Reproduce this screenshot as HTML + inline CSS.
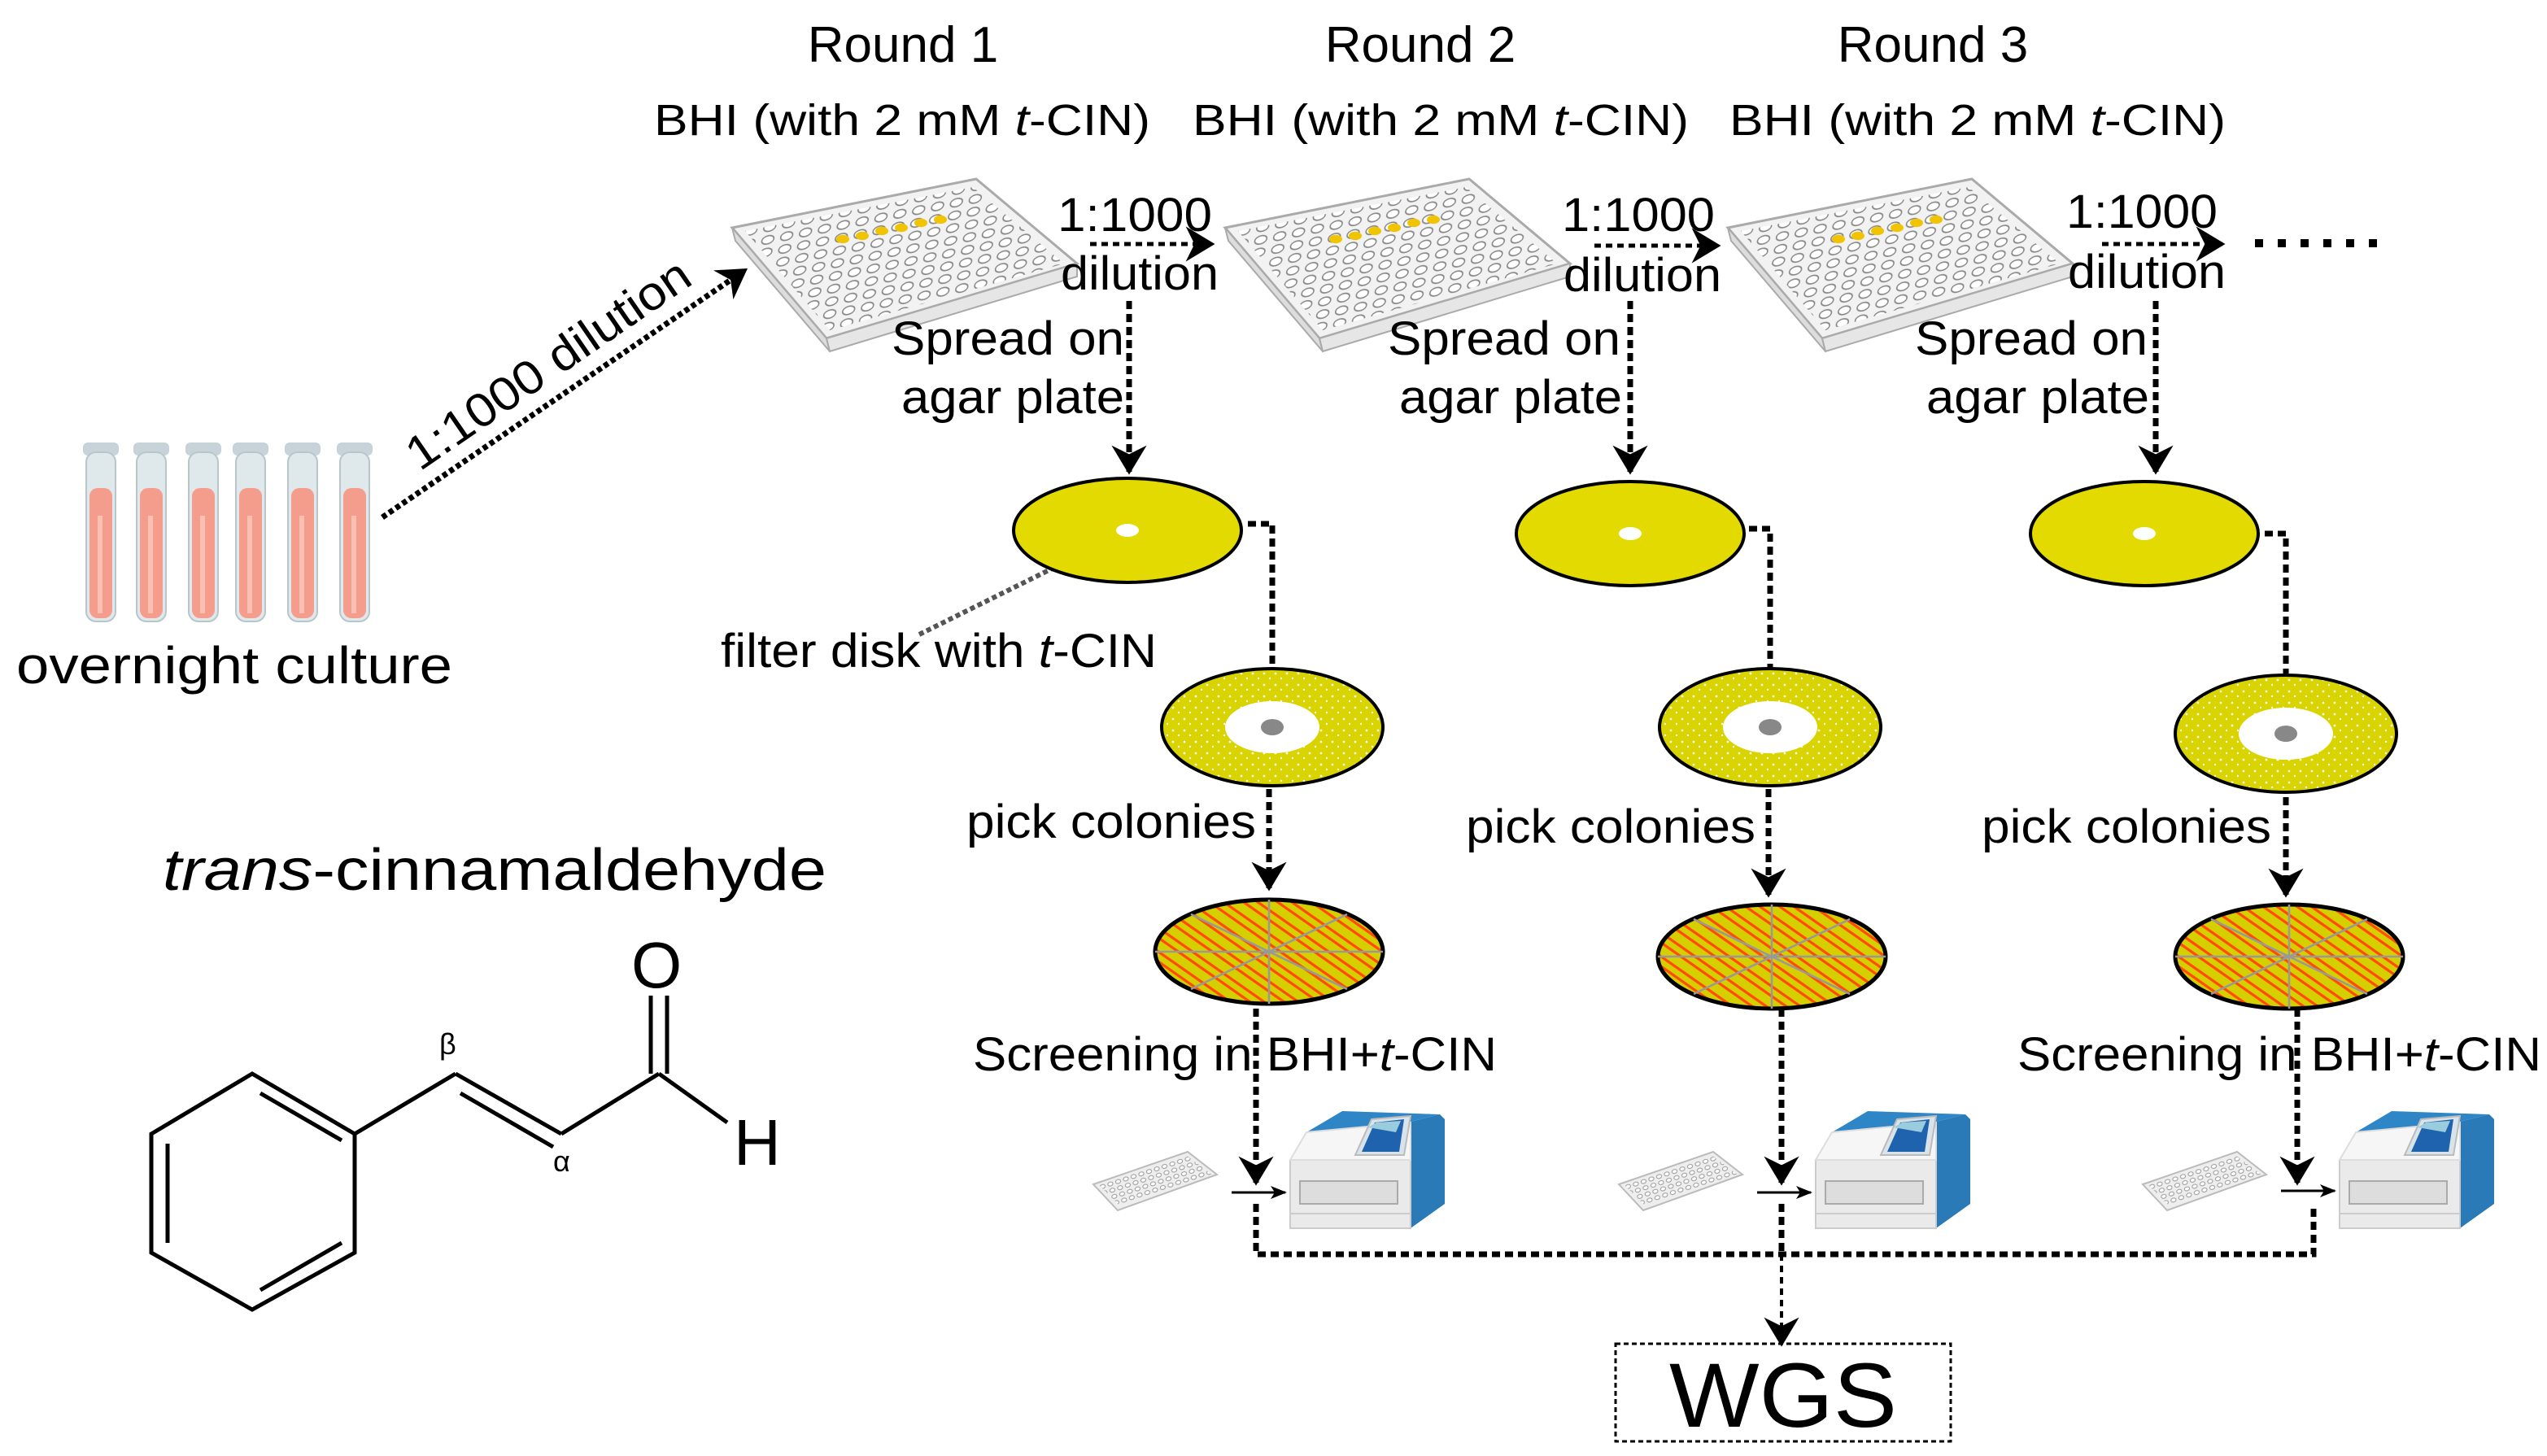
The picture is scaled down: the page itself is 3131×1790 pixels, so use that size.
<!DOCTYPE html>
<html><head><meta charset="utf-8"><style>html,body{margin:0;padding:0;background:#fff}svg{display:block}text{font-family:"Liberation Sans",sans-serif;fill:#000}</style></head><body>
<svg width="3131" height="1790" viewBox="0 0 1565.5 895" xmlns="http://www.w3.org/2000/svg">
<defs>
<marker id="ah" viewBox="0 0 20 24" refX="18" refY="12" markerWidth="18" markerHeight="22" markerUnits="userSpaceOnUse" orient="auto"><path d="M0,0 L20,12 L0,24 L6,12 z" fill="#000"/></marker>
<marker id="ahs" viewBox="0 0 20 20" refX="18" refY="10" markerWidth="10" markerHeight="10" markerUnits="userSpaceOnUse" orient="auto"><path d="M0,2 L20,10 L0,18 L5,10 z" fill="#000"/></marker>
<pattern id="wells" width="11" height="8" patternUnits="userSpaceOnUse" patternTransform="skewX(-20) rotate(-12)"><ellipse cx="5" cy="4" rx="3.5" ry="2.6" fill="#fff" stroke="#888" stroke-width="0.8"/></pattern>
<pattern id="wells2" width="5" height="4" patternUnits="userSpaceOnUse" patternTransform="rotate(-18)"><ellipse cx="2.5" cy="2" rx="1.6" ry="1.2" fill="#fff" stroke="#999" stroke-width="0.5"/></pattern>
<pattern id="speck" width="7" height="7" patternUnits="userSpaceOnUse"><rect width="7" height="7" fill="#d9d400"/><circle cx="2" cy="2" r="0.7" fill="#fff"/><circle cx="5.5" cy="5" r="0.6" fill="#fff"/></pattern>
<pattern id="streak" width="12" height="12" patternUnits="userSpaceOnUse" patternTransform="rotate(35)"><rect width="12" height="12" fill="#d6cf00"/><path d="M0,3 L12,3 M0,8 L12,8" stroke="#ff4a00" stroke-width="1.6"/></pattern>
<g id="p96">
 <path d="M0,30 L150,0 L212,52 L58,98 Z" fill="#f2f2f2" stroke="#aaa" stroke-width="1.5"/>
 <path d="M8,32 L148,5 L204,52 L60,93 Z" fill="url(#wells)"/>
 <path d="M0,30 L58,98 L60,106 L2,38 Z" fill="#ddd" stroke="#aaa"/>
 <path d="M58,98 L212,52 L212,60 L60,106 Z" fill="#e6e6e6" stroke="#aaa"/>
 <g fill="#f0c400"><ellipse cx="68" cy="37" rx="4" ry="2.6"/><ellipse cx="80" cy="35" rx="4" ry="2.6"/><ellipse cx="92" cy="32" rx="4" ry="2.6"/><ellipse cx="104" cy="30" rx="4" ry="2.6"/><ellipse cx="116" cy="27" rx="4" ry="2.6"/><ellipse cx="128" cy="25" rx="4" ry="2.6"/></g>
</g>
<g id="disk1"><ellipse cx="0" cy="0" rx="70" ry="32" fill="#e2da00" stroke="#000" stroke-width="2"/><ellipse cx="0" cy="0" rx="7" ry="4" fill="#fff"/></g>
<g id="disk2"><ellipse cx="0" cy="0" rx="68" ry="36" fill="url(#speck)" stroke="#000" stroke-width="2"/><ellipse cx="0" cy="0" rx="29" ry="16" fill="#fff"/><ellipse cx="0" cy="0" rx="7" ry="5" fill="#888"/></g>
<g id="disk3"><ellipse cx="0" cy="0" rx="70" ry="32" fill="url(#streak)" stroke="#000" stroke-width="2.5"/><path d="M-70,0 L70,0 M0,-32 L0,32 M-48,-23 L48,23 M-48,23 L48,-23" stroke="#999" stroke-width="1.3"/></g>
<g id="reader">
 <path d="M-73,10 L-15,-10 L3,4 L-58,26 Z" fill="#eee" stroke="#bbb"/>
 <path d="M-70,10 L-16,-8 L0,4 L-57,23 Z" fill="url(#wells2)"/>
 <path d="M120,-28 L140,-33 L143,-30 L143,22 L122,37 Z" fill="#2a7ab8"/>
 <path d="M58,-22 L80,-35 L140,-33 L120,-28 Z" fill="#2e86c6"/>
 <path d="M48,-5 L48,37 L122,37 L122,-5 Z" fill="#eaeaea" stroke="#ccc"/>
 <path d="M48,-5 L58,-22 L122,-28 L122,-5 Z" fill="#f6f6f6" stroke="#ddd"/>
 <path d="M88,-8 L98,-30 L122,-32 L118,-8 Z" fill="#d9e3ea" stroke="#bbb"/>
 <path d="M92,-10 L100,-28 L118,-30 L115,-10 Z" fill="#1f62ad"/>
 <path d="M96,-25 L101,-28 L116,-29 L113,-22 Z" fill="#9cd"/>
 <rect x="54" y="8" width="60" height="14" fill="#ddd" stroke="#aaa"/>
 <line x1="48" y1="28" x2="122" y2="28" stroke="#ccc"/>
</g>
<g id="tube">
 <rect x="-11" y="0" width="22" height="8" rx="3" fill="#c7d3d8"/>
 <rect x="-9" y="6" width="18" height="104" rx="6" fill="#dfe9ec" stroke="#b8c6ca"/>
 <rect x="-7" y="28" width="14" height="80" rx="5" fill="#f59d8c"/>
 <rect x="-2" y="45" width="3" height="60" fill="#fbc0b3"/>
</g>
</defs>

<text x="555" y="38" font-size="31" text-anchor="middle">Round 1</text>
<text x="873" y="38" font-size="31" text-anchor="middle">Round 2</text>
<text x="1188" y="38" font-size="31" text-anchor="middle">Round 3</text>
<text x="402" y="83" font-size="27" textLength="305" lengthAdjust="spacingAndGlyphs">BHI (with 2 mM <tspan font-style="italic">t</tspan>-CIN)</text>
<text x="733" y="83" font-size="27" textLength="305" lengthAdjust="spacingAndGlyphs">BHI (with 2 mM <tspan font-style="italic">t</tspan>-CIN)</text>
<text x="1063" y="83" font-size="27" textLength="305" lengthAdjust="spacingAndGlyphs">BHI (with 2 mM <tspan font-style="italic">t</tspan>-CIN)</text>

<use href="#p96" x="450" y="110"/>
<use href="#p96" x="753" y="110"/>
<use href="#p96" x="1062" y="110"/>

<g stroke="#000" stroke-width="2.5" stroke-dasharray="4,3" fill="none">
 <line x1="670" y1="150" x2="745" y2="150" marker-end="url(#ah)"/>
 <line x1="980" y1="151" x2="1056" y2="151" marker-end="url(#ah)"/>
 <line x1="1292" y1="150" x2="1366" y2="150" marker-end="url(#ah)"/>
</g>
<g fill="#000"><rect x="1386" y="147" width="5" height="5"/><rect x="1400" y="147" width="5" height="5"/><rect x="1414" y="147" width="5" height="5"/><rect x="1428" y="147" width="5" height="5"/><rect x="1442" y="147" width="5" height="5"/><rect x="1456" y="147" width="5" height="5"/></g>
<g font-size="29">
<text x="650" y="142" textLength="95" lengthAdjust="spacingAndGlyphs">1:1000</text>
<text x="652" y="178" textLength="97" lengthAdjust="spacingAndGlyphs">dilution</text>
<text x="960" y="142" textLength="94" lengthAdjust="spacingAndGlyphs">1:1000</text>
<text x="961" y="179" textLength="97" lengthAdjust="spacingAndGlyphs">dilution</text>
<text x="1270" y="140" textLength="93" lengthAdjust="spacingAndGlyphs">1:1000</text>
<text x="1271" y="177" textLength="97" lengthAdjust="spacingAndGlyphs">dilution</text>
<text x="548" y="218" textLength="143" lengthAdjust="spacingAndGlyphs">Spread on</text>
<text x="554" y="254" textLength="137" lengthAdjust="spacingAndGlyphs">agar plate</text>
<text x="853" y="218" textLength="143" lengthAdjust="spacingAndGlyphs">Spread on</text>
<text x="860" y="254" textLength="137" lengthAdjust="spacingAndGlyphs">agar plate</text>
<text x="1177" y="218" textLength="143" lengthAdjust="spacingAndGlyphs">Spread on</text>
<text x="1184" y="254" textLength="137" lengthAdjust="spacingAndGlyphs">agar plate</text>
<text x="594" y="515" textLength="178" lengthAdjust="spacingAndGlyphs">pick colonies</text>
<text x="901" y="518" textLength="178" lengthAdjust="spacingAndGlyphs">pick colonies</text>
<text x="1218" y="518" textLength="178" lengthAdjust="spacingAndGlyphs">pick colonies</text>
<text x="598" y="658" textLength="322" lengthAdjust="spacingAndGlyphs">Screening in BHI+<tspan font-style="italic">t</tspan>-CIN</text>
<text x="1240" y="658" textLength="322" lengthAdjust="spacingAndGlyphs">Screening in BHI+<tspan font-style="italic">t</tspan>-CIN</text>
<text x="443" y="410" textLength="268" lengthAdjust="spacingAndGlyphs">filter disk with <tspan font-style="italic">t</tspan>-CIN</text>
<text x="10" y="420" font-size="32" textLength="268" lengthAdjust="spacingAndGlyphs">overnight culture</text>
<text x="100" y="547" font-size="36" textLength="408" lengthAdjust="spacingAndGlyphs"><tspan font-style="italic">trans</tspan>-cinnamaldehyde</text>
</g>

<use href="#reader" x="745" y="718"/>
<use href="#reader" x="1068" y="718"/>
<use href="#reader" x="1390" y="718"/>

<g stroke="#000" stroke-width="3.5" stroke-dasharray="5,3" fill="none">
 <line x1="694" y1="185" x2="694" y2="290" marker-end="url(#ah)"/>
 <line x1="1002" y1="185" x2="1002" y2="290" marker-end="url(#ah)"/>
 <line x1="1325" y1="185" x2="1325" y2="290" marker-end="url(#ah)"/>
 <path d="M767,322 L782,322 L782,412"/>
 <path d="M1075,325 L1088,325 L1088,412"/>
 <path d="M1392,328 L1405,328 L1405,414"/>
 <line x1="780" y1="485" x2="780" y2="546" marker-end="url(#ah)"/>
 <line x1="1087" y1="485" x2="1087" y2="550" marker-end="url(#ah)"/>
 <line x1="1405" y1="490" x2="1405" y2="550" marker-end="url(#ah)"/>
 <line x1="772" y1="620" x2="772" y2="727" marker-end="url(#ah)"/>
 <line x1="1095" y1="620" x2="1095" y2="727" marker-end="url(#ah)"/>
 <line x1="1412" y1="620" x2="1412" y2="727" marker-end="url(#ah)"/>
 <path d="M772,740 L772,771 L1422,771 L1422,740"/>
 <line x1="1095" y1="740" x2="1095" y2="771"/>
</g>
<g stroke="#000" stroke-width="1.5"><line x1="757" y1="733" x2="790" y2="733" marker-end="url(#ahs)"/><line x1="1080" y1="733" x2="1113" y2="733" marker-end="url(#ahs)"/><line x1="1402" y1="732" x2="1435" y2="732" marker-end="url(#ahs)"/></g>
<line x1="1095" y1="771" x2="1095" y2="826" stroke="#000" stroke-width="2" stroke-dasharray="4,3" marker-end="url(#ah)"/>
<line x1="235" y1="318" x2="458" y2="166" stroke="#000" stroke-width="3.5" stroke-dasharray="3,2" marker-end="url(#ah)"/>
<text x="0" y="0" font-size="29" transform="translate(258,290) rotate(-34.5)" textLength="205" lengthAdjust="spacingAndGlyphs">1:1000 dilution</text>
<line x1="565" y1="390" x2="690" y2="328" stroke="#555" stroke-width="3" stroke-dasharray="3,2"/>

<use href="#disk1" x="693" y="326"/>
<use href="#disk1" x="1002" y="328"/>
<use href="#disk1" x="1318" y="328"/>
<use href="#disk2" x="782" y="447"/>
<use href="#disk2" x="1088" y="447"/>
<use href="#disk2" x="1405" y="451"/>
<use href="#disk3" x="780" y="585"/>
<use href="#disk3" x="1089" y="588"/>
<use href="#disk3" x="1407" y="588"/>

<rect x="993" y="826" width="206" height="60" fill="none" stroke="#000" stroke-width="1.5" stroke-dasharray="3,2"/>
<text x="1096" y="877" font-size="56" text-anchor="middle" textLength="140" lengthAdjust="spacingAndGlyphs">WGS</text>

<use href="#tube" x="62" y="272"/>
<use href="#tube" x="93" y="272"/>
<use href="#tube" x="125" y="272"/>
<use href="#tube" x="154" y="272"/>
<use href="#tube" x="186" y="272"/>
<use href="#tube" x="218" y="272"/>

<g stroke="#000" stroke-width="2.5" fill="none">
 <path d="M155,660 L218,697 L218,770 L155,805 L93,770 L93,697 Z"/>
 <line x1="103" y1="703" x2="103" y2="764"/>
 <line x1="160" y1="672" x2="210" y2="701"/>
 <line x1="160" y1="793" x2="210" y2="764"/>
 <line x1="218" y1="697" x2="280" y2="660"/>
 <line x1="280" y1="660" x2="345" y2="697"/>
 <line x1="283" y1="672" x2="340" y2="705"/>
 <line x1="345" y1="697" x2="405" y2="660"/>
 <line x1="400" y1="660" x2="400" y2="612"/>
 <line x1="410" y1="660" x2="410" y2="612"/>
 <line x1="405" y1="660" x2="447" y2="690"/>
</g>
<text x="388" y="607" font-size="40">O</text>
<text x="451" y="716" font-size="40">H</text>
<text x="270" y="648" font-size="18">β</text>
<text x="340" y="720" font-size="18">α</text>
</svg>
</body></html>
